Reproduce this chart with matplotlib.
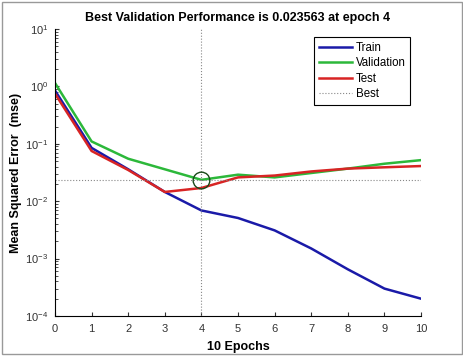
import matplotlib
matplotlib.use('Agg')
import matplotlib.pyplot as plt
import numpy as np

# Performance per epoch
epochs = [0, 1, 2, 3, 4, 5, 6, 7, 8, 9, 10]
train_mse = [0.85, 0.085, 0.036, 0.0145, 0.0069, 0.0051, 0.0031, 0.0015, 0.00065, 0.0003, 0.0002]
val_mse = [1.15, 0.11, 0.055, 0.036, 0.023563, 0.029, 0.026, 0.031, 0.037, 0.045, 0.052]
test_mse = [0.75, 0.075, 0.035, 0.0145, 0.017, 0.026, 0.028, 0.033, 0.037, 0.039, 0.041]
best_epoch = 4
best_perf = 0.023563

plt.rcParams['font.family'] = ['Liberation Sans', 'DejaVu Sans']

fig = plt.figure(figsize=(4.64, 3.56), dpi=100)
ax = fig.add_axes([0.1185, 0.1124, 0.789, 0.806])

ax.semilogy(epochs, train_mse, color='#1a1aa8', linewidth=1.8, label='Train')
ax.semilogy(epochs, val_mse, color='#2cb83a', linewidth=1.8, label='Validation')
ax.semilogy(epochs, test_mse, color='#d82424', linewidth=1.8, label='Test')
ax.axhline(best_perf, color='#888888', linestyle=':', linewidth=0.8, label='Best')
ax.axvline(best_epoch, color='#888888', linestyle=':', linewidth=0.8)
ax.plot(best_epoch, best_perf, 'o', markersize=12, markerfacecolor='none',
        markeredgecolor='#1a4a1a', markeredgewidth=1.0)

ax.set_xlim(0, 10)
ax.set_ylim(1e-4, 10)
ax.set_xticks(range(0, 11))
ax.spines['top'].set_visible(False)
ax.spines['right'].set_visible(False)
ax.tick_params(axis='both', which='both', direction='in', labelsize=8, colors='#333333')
ax.tick_params(axis='both', which='major', length=3, pad=6)
ax.tick_params(axis='y', which='major', pad=5)
ax.tick_params(axis='y', which='minor', length=2)

ax.set_title('Best Validation Performance is 0.023563 at epoch 4',
             fontsize=9, fontweight='bold', pad=6)
ax.set_xlabel('10 Epochs', fontsize=9, fontweight='bold', labelpad=5)
ax.set_ylabel('Mean Squared Error  (mse)', fontsize=9, fontweight='bold', labelpad=2)

leg = ax.legend(loc='upper right', bbox_to_anchor=(0.97, 0.972), borderaxespad=0,
                fontsize=8.3, fancybox=False, edgecolor='black', framealpha=1,
                handlelength=2.9, borderpad=0.4, labelspacing=0.3, handletextpad=0.3)
leg.get_frame().set_linewidth(0.8)

# outer border of the figure
fig.patches.append(plt.Rectangle((0.004, 0.006), 0.992, 0.988, transform=fig.transFigure,
                                 fill=False, edgecolor='#999999', linewidth=1.0))

fig.savefig('out.png', dpi=100)
